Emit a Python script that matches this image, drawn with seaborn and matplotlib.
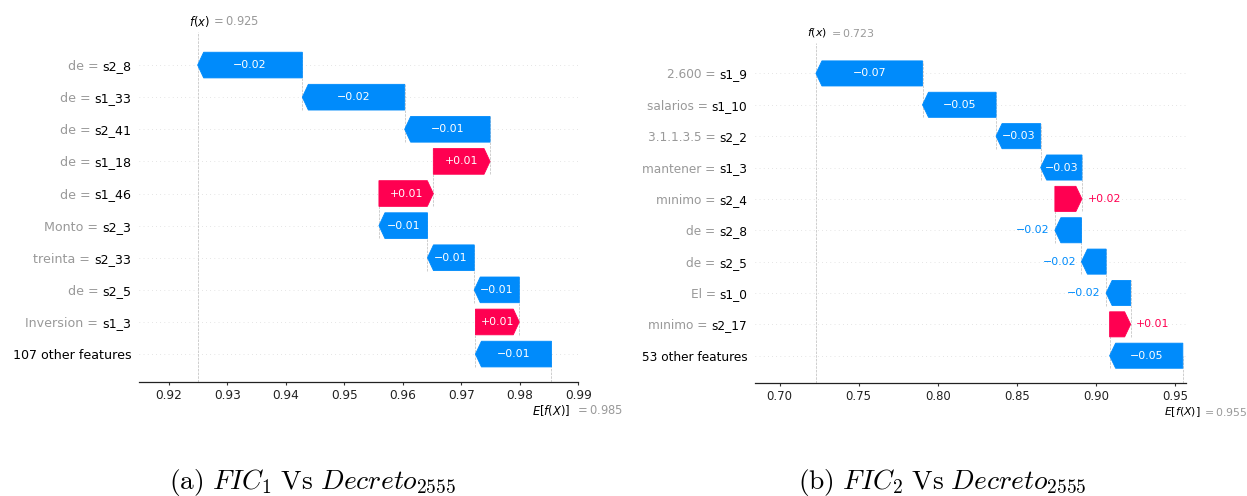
import numpy as np
import matplotlib
matplotlib.use("Agg")
import matplotlib.pyplot as plt
from matplotlib.patches import FancyArrow
import seaborn as sns

# (a) FIC_1 vs Decreto_2555  -- rows top to bottom
names_a = ["s2_8", "s1_33", "s2_41", "s1_18", "s1_46", "s2_3", "s2_33", "s2_5", "s1_3",
           "107 other features"]
feat_vals_a = ["de", "de", "de", "de", "de", "Monto", "treinta", "de", "Inversion", ""]
shap_a = [-0.0179, -0.0175, -0.0146, 0.0097, 0.0093, -0.0083, -0.0080, -0.0077, 0.0075, -0.0130]
base_a = 0.9854
xticks_a = [0.92, 0.93, 0.94, 0.95, 0.96, 0.97, 0.98, 0.99]

# (b) FIC_2 vs Decreto_2555
names_b = ["s1_9", "s1_10", "s2_2", "s1_3", "s2_4", "s2_8", "s2_5", "s1_0", "s2_17",
           "53 other features"]
feat_vals_b = ["2.600", "salarios", "3.1.1.3.5", "mantener", "mınimo", "de", "de", "El", "mınimo", ""]
shap_b = [-0.0674, -0.0465, -0.0282, -0.0261, 0.0171, -0.0168, -0.0156, -0.0155, 0.0133, -0.0463]
base_b = 0.955
xticks_b = [0.70, 0.75, 0.80, 0.85, 0.90, 0.95]

captions = [r"$\mathrm{(a)}\ FIC_1\ \mathrm{Vs}\ Decreto_{2555}$",
            r"$\mathrm{(b)}\ FIC_2\ \mathrm{Vs}\ Decreto_{2555}$"]

RED = "#ff0051"
BLUE = "#008bfb"

sns.set_theme(style="white")
plt.rcParams["font.family"] = ["DejaVu Sans"]
plt.rcParams["mathtext.fontset"] = "dejavusans"

fig = plt.figure(figsize=(12.47, 4.96), dpi=100)
renderer = fig.canvas.get_renderer()


def waterfall(ax, names, fvals, shap, base, xticks, xlim, ylim, fs=1.0, eq_off=17.2):
    s = np.array(shap)
    n = len(s)
    ys = np.arange(n)[::-1]
    start = base + np.cumsum(s[::-1])[::-1] - s
    end = start + s
    fx = base + s.sum()

    ax.set_xlim(*xlim)
    ax.set_ylim(*ylim)
    bbox = ax.get_window_extent().transformed(fig.dpi_scale_trans.inverted())
    xscale = (xlim[1] - xlim[0]) / bbox.width
    hl = 0.06 * xscale

    for y in ys:
        ax.axhline(y, color="#cccccc", lw=0.5, dashes=(1, 5), zorder=-1)

    # joints between bars
    for i in range(n - 1):
        ax.plot([start[i], start[i]], [ys[i] - 1 - 0.4, ys[i] + 0.4],
                color="#bbbbbb", ls="--", lw=0.5, zorder=-1)
    ax.axvline(fx, 0, 1, color="#bbbbbb", ls="--", lw=0.5, zorder=-1)
    ax.plot([base, base], [ylim[0], 0], color="#bbbbbb", ls="--", lw=0.5, zorder=-1)

    for i in range(n):
        col = RED if s[i] > 0 else BLUE
        arr = FancyArrow(start[i], ys[i], s[i], 0, width=0.8, head_width=0.8,
                         head_length=min(abs(s[i]), hl), length_includes_head=True,
                         color=col, lw=0.6)
        ax.add_patch(arr)
        lab = ("%+0.02f" % s[i]).replace("-", "\u2212")
        txt = ax.text((start[i] + end[i]) / 2, ys[i], lab, ha="center", va="center",
                      color="white", fontsize=7.9)
        if txt.get_window_extent(renderer).width > arr.get_window_extent(renderer).width:
            txt.remove()
            off = 4 if s[i] > 0 else -4
            ax.annotate(lab, xy=(end[i], ys[i]), xytext=(off, 0), textcoords="offset points",
                        ha="left" if s[i] > 0 else "right", va="center", color=col,
                        fontsize=7.9)

    # y labels: black feature name as tick label, grey "value =" to its left
    ypad = 5.7
    yfs = 9.1 * fs
    ax.set_yticks(ys)
    ax.set_yticklabels(names, fontsize=yfs, color="black")
    ax.tick_params(axis="y", length=0, pad=ypad)
    for y, v, nm in zip(ys, fvals, names):
        if not v:
            continue
        tmp = ax.text(0, 0, nm, fontsize=yfs)
        w_pt = tmp.get_window_extent(renderer).width * 72 / fig.dpi
        tmp.remove()
        ax.annotate(v + " =", xy=(0, y), xycoords=("axes fraction", "data"),
                    xytext=(-(ypad + w_pt + 0.318 * yfs), 0), textcoords="offset points",
                    ha="right", va="center_baseline", fontsize=yfs, color="#999999",
                    annotation_clip=False)

    ax.set_xticks(xticks)
    ax.set_xticklabels(["%.2f" % v for v in xticks])
    ax.tick_params(axis="x", bottom=True, length=2.5, width=0.8, pad=2.5,
                   labelsize=8.7 * fs, color="#333333", labelcolor="#222222")

    sns.despine(ax=ax, left=True, top=True, right=True)
    ax.spines["bottom"].set_color("#222222")
    ax.spines["bottom"].set_linewidth(0.9)
    ax.grid(False)

    tr = ("data", "axes fraction")
    mfs = 8.3 * fs
    ax.annotate("$f(x)$", xy=(fx, 1), xycoords=tr, xytext=(-6.5, 7.5),
                textcoords="offset points", ha="left", va="center", fontsize=mfs,
                color="black", annotation_clip=False)
    ax.annotate("$ = %0.03f$" % fx, xy=(fx, 1), xycoords=tr, xytext=(9.6, 7.5),
                textcoords="offset points", ha="left", va="center", fontsize=mfs,
                color="#999999", annotation_clip=False)
    ax.annotate("$E[f(X)]$", xy=(base, 0), xycoords=tr, xytext=(-13.7, -20.6),
                textcoords="offset points", ha="left", va="center", fontsize=mfs,
                color="black", annotation_clip=False)
    ax.annotate("$ = %0.03f$" % base, xy=(base, 0), xycoords=tr, xytext=(eq_off, -20.6),
                textcoords="offset points", ha="left", va="center", fontsize=mfs,
                color="#999999", annotation_clip=False)


ax1 = fig.add_axes([0.1116, 0.2298, 0.3522, 0.7057])
waterfall(ax1, names_a, feat_vals_a, shap_a, base_a, xticks_a,
          (0.9149, 0.9900), (-0.87, 10.03))

ax2 = fig.add_axes([0.6056, 0.2272, 0.3451, 0.6861])
waterfall(ax2, names_b, feat_vals_b, shap_b, base_b, xticks_b,
          (0.6846, 0.9567), (-0.88, 9.97), fs=0.96, eq_off=13.8)

for cx, cap in zip([0.2506, 0.7558], captions):
    fig.text(cx, 0.014, cap, ha="center", va="baseline", fontsize=19.8,
             math_fontfamily="cm", color="black")

fig.savefig("out.png", dpi=100, facecolor="white")
